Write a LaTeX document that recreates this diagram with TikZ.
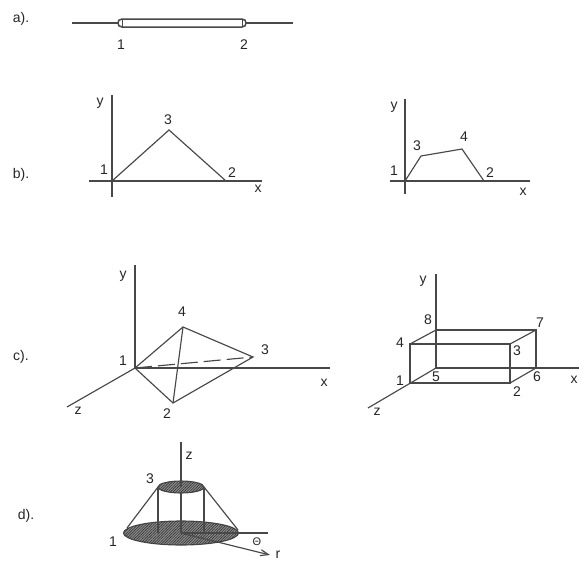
\documentclass[tikz,border=0pt]{standalone}
\usepackage{fontspec}
\setmainfont{Liberation Sans}
\usetikzlibrary{patterns.meta,arrows.meta}
\definecolor{ink}{HTML}{484848}
\tikzset{
  lne/.style={draw=ink,line width=1.15pt},
  lab/.style={text=black!85,font=\fontsize{14}{16}\selectfont,inner sep=0pt},
  hatch/.style={draw=ink,line width=1.1pt,fill=black!45,postaction={pattern={Lines[angle=45,distance=1.9pt,line width=0.6pt]},pattern color=black!80}}
}
\begin{document}
\begin{tikzpicture}[x=1pt,y=-1pt]
\useasboundingbox (0,0) rectangle (579,563);
\clip (0,0) rectangle (579,563);
\fill[white] (0,0) rectangle (579,563);
% a
\coordinate (aL) at (72,23); \coordinate (aR) at (293,23);
\coordinate (t1) at (122,19); \coordinate (t2) at (242,19);
\coordinate (t3) at (242,27); \coordinate (t4) at (122,27);
\coordinate (tl) at (118,23); \coordinate (tr) at (246,23);
\draw[lne] (aL) -- (tl);
\draw[lne] (tr) -- (aR);
\draw[lne,line width=1.5pt] (t1) -- (t2) .. controls (245,19) and (246,21) .. (tr) .. controls (246,25) and (245,27) .. (t3) -- (t4) .. controls (119,27) and (118,25) .. (tl) .. controls (118,21) and (119,19) .. (t1);
\draw[lne,line width=0.8pt] (t1) -- (t4) (t2) -- (t3);
\node[lab] (a0) at (21,19) {a).};
\node[lab] (a1) at (121,45) {1};
\node[lab] (a2) at (244,45) {2};
% b left
\coordinate (b1) at (112,181); \coordinate (b2) at (226,181); \coordinate (b3) at (169,130);
\draw[lne] (112,95) -- (112,197);
\draw[lne] (89,181) -- (262,181);
\draw[lne] (b1) -- (b3) -- (b2);
\node[lab] (b0) at (21,175) {b).};
\node[lab] (by) at (100,103) {y};
\node[lab] (bn3) at (168,120) {3};
\node[lab] (bn1) at (104,170) {1};
\node[lab] (bn2) at (232,173) {2};
\node[lab] (bx) at (258,189) {x};
% b right
\coordinate (e1) at (405,181); \coordinate (e3) at (421,156); \coordinate (e4) at (462,149); \coordinate (e2) at (484,181);
\draw[lne] (405,99) -- (405,194);
\draw[lne] (390,181) -- (530,181);
\draw[lne] (e1) -- (e3) -- (e4) -- (e2);
\node[lab] (ey) at (394,107) {y};
\node[lab] (en3) at (417,146) {3};
\node[lab] (en4) at (464,137) {4};
\node[lab] (en1) at (394,171) {1};
\node[lab] (en2) at (490,173) {2};
\node[lab] (ex) at (523,192) {x};
% c left
\coordinate (c1) at (135,368); \coordinate (c2) at (173,403); \coordinate (c3) at (253,357); \coordinate (c4) at (183,327);
\draw[lne] (135,265) -- (c1) -- (330,368);
\draw[lne] (c1) -- (67,407);
\draw[lne] (c1) -- (c4) -- (c3) -- (c2) -- cycle;
\draw[lne] (c4) -- (c2);
\draw[lne,dash pattern=on 17pt off 6pt] (c1) -- (c3);
\node[lab] (c0) at (21,357) {c).};
\node[lab] (cy) at (123,276) {y};
\node[lab] (cn4) at (182,312) {4};
\node[lab] (cn3) at (265,350) {3};
\node[lab] (cn1) at (123,361) {1};
\node[lab] (cn2) at (167,414) {2};
\node[lab] (cx) at (324,383) {x};
\node[lab] (cz) at (78,411) {z};
% c right
\coordinate (r1) at (410,383); \coordinate (r2) at (510,383); \coordinate (r3) at (510,344); \coordinate (r4) at (410,344);
\coordinate (r5) at (436,368); \coordinate (r6) at (536,368); \coordinate (r7) at (536,330); \coordinate (r8) at (436,330);
\draw[lne] (436,274) -- (r5) -- (579,368);
\draw[lne] (r5) -- (368,408);
\draw[lne] (r1) -- (r2) -- (r3) -- (r4) -- cycle;
\draw[lne] (r8) -- (r7) -- (r6);
\draw[lne] (r4) -- (r8) (r3) -- (r7) (r2) -- (r6);
\node[lab] (ry) at (423,281) {y};
\node[lab] (rn8) at (428,320) {8};
\node[lab] (rn7) at (540,323) {7};
\node[lab] (rn4) at (400,343) {4};
\node[lab] (rn3) at (517,351) {3};
\node[lab] (rn1) at (400,381) {1};
\node[lab] (rn5) at (436,377) {5};
\node[lab] (rn6) at (537,377) {6};
\node[lab] (rn2) at (517,392) {2};
\node[lab] (rz) at (377,412) {z};
\node[lab] (rx) at (574,380) {x};
% d
\coordinate (dc) at (181,533); \coordinate (ds) at (181,487);
\draw[hatch] (dc) ellipse[x radius=57.5,y radius=12];
\draw[hatch] (ds) ellipse[x radius=23,y radius=6];
\draw[lne] (181,442) -- (ds);
\draw[lne] (181,493) -- (dc);
\draw[lne] (158,487) -- (158,533);
\draw[lne] (204,487) -- (204,533);
\draw[lne] (158,487) -- (127,528);
\draw[lne] (204,487) -- (238,530);
\draw[lne] (dc) -- (268,533);
\draw[lne,-{Straight Barb[length=8pt,width=6pt]}] (dc) -- (270,555);
\node[lab] (d0) at (26,516) {d).};
\node[lab] (dz) at (189,456) {z};
\node[lab] (dn3) at (150,479) {3};
\node[lab] (dn1) at (113,542) {1};
\node[lab,font=\fontsize{11}{12}\selectfont] (dt) at (257,542) {Θ};
\node[lab] (dr) at (278,555) {r};
\end{tikzpicture}
\end{document}
